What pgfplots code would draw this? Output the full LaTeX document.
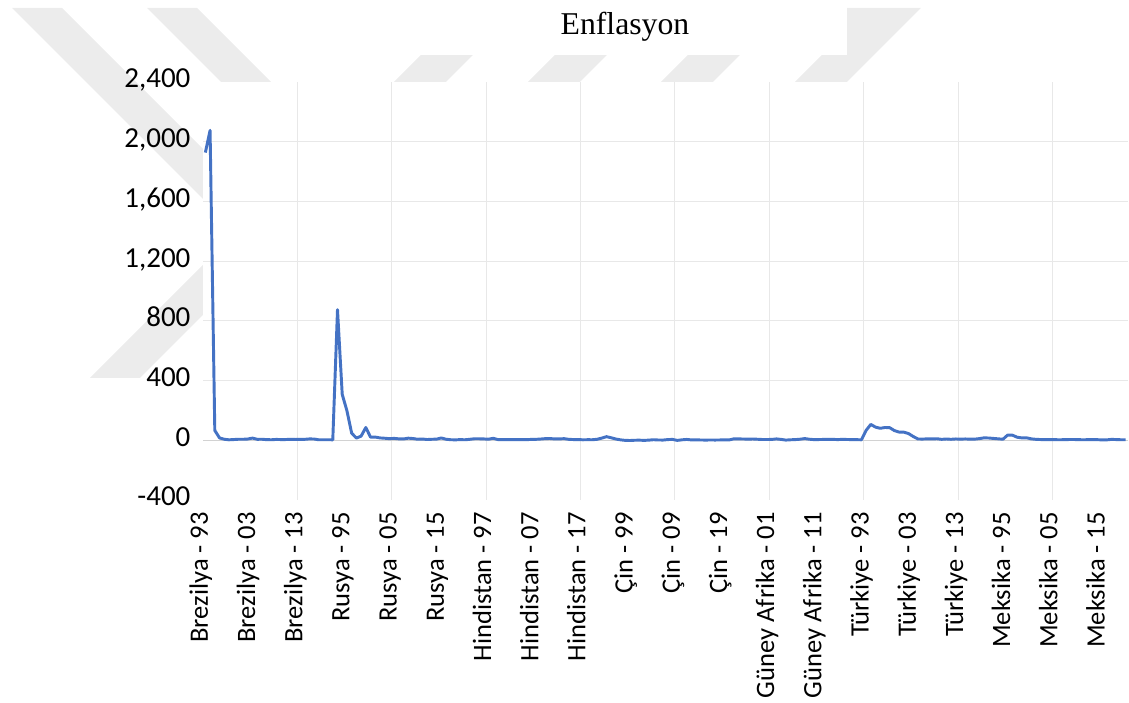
\documentclass[border=0pt]{standalone}
\usepackage{pgfplots}
\pgfplotsset{compat=1.18}
\usepackage{pgfplotstable}
\usepackage{fontspec}
\setmainfont{Liberation Serif}
\newfontfamily\carlito{Carlito}
\definecolor{linec}{HTML}{4472C4}
\definecolor{gridc}{RGB}{232,232,232}
\definecolor{zeroc}{RGB}{210,210,210}
\definecolor{wmark}{RGB}{236,236,236}

\pgfplotstableread{
x y
0 1927.4
1 2075.9
2 66.0
3 15.8
4 6.9
5 3.2
6 4.9
7 7.0
8 6.8
9 8.5
10 14.7
11 6.6
12 6.9
13 4.2
14 3.6
15 5.7
16 4.9
17 5.0
18 6.6
19 5.4
20 6.2
21 6.3
22 9.0
23 8.7
24 3.4
25 3.7
26 3.7
27 3.2
28 874.6
29 307.6
30 197.5
31 47.7
32 14.8
33 27.7
34 85.7
35 20.8
36 21.5
37 15.8
38 13.7
39 10.9
40 12.7
41 9.7
42 9.0
43 14.1
44 11.7
45 6.9
46 8.4
47 5.1
48 6.8
49 7.8
50 15.5
51 7.0
52 3.7
53 2.9
54 4.5
55 3.4
56 6.4
57 10.2
58 10.2
59 9.0
60 7.2
61 13.2
62 4.7
63 4.0
64 3.8
65 4.3
66 3.8
67 3.8
68 4.2
69 5.8
70 6.4
71 8.3
72 10.9
73 12.0
74 8.9
75 9.3
76 10.9
77 6.4
78 4.9
79 4.9
80 3.3
81 3.9
82 3.7
83 6.6
84 14.6
85 24.3
86 16.8
87 8.3
88 2.8
89 -0.8
90 -1.4
91 0.3
92 0.7
93 -0.7
94 1.1
95 3.8
96 1.8
97 1.6
98 4.8
99 5.9
100 -0.7
101 3.2
102 5.6
103 2.6
104 2.6
105 2.0
106 1.4
107 2.0
108 1.6
109 2.1
110 2.9
111 2.4
112 9.7
113 9.0
114 8.7
115 7.4
116 8.6
117 6.9
118 5.2
119 5.3
120 5.7
121 9.2
122 5.8
123 1.4
124 3.4
125 4.6
126 7.1
127 11.5
128 7.1
129 4.3
130 5.0
131 5.7
132 5.8
133 6.1
134 4.6
135 6.3
136 5.3
137 4.6
138 4.1
139 3.2
140 66.1
141 106.3
142 88.1
143 80.3
144 85.7
145 84.6
146 64.9
147 54.9
148 54.4
149 45.0
150 25.3
151 8.6
152 8.2
153 9.6
154 8.8
155 10.4
156 6.3
157 8.6
158 6.5
159 8.9
160 7.5
161 8.9
162 7.7
163 7.8
164 11.1
165 16.3
166 15.2
167 12.3
168 9.8
169 7.0
170 35.0
171 34.4
172 20.6
173 15.9
174 16.6
175 9.5
176 6.4
177 5.0
178 4.5
179 4.7
180 4.0
181 3.6
182 4.0
183 5.1
184 5.3
185 4.2
186 3.4
187 4.1
188 3.8
189 4.0
190 2.7
191 2.8
192 6.0
193 4.9
194 3.6
195 3.4
}\inflation

\begin{document}
\begin{tikzpicture}
\useasboundingbox (0,0) rectangle (846.75pt,527.25pt);
% background watermark bands (image pixel coordinates, y downwards)
\begin{scope}[shift={(0,527.25pt)}, x=0.75pt, y=-0.75pt]
  \fill[wmark] (12,8) -- (62,8) -- (286,232) -- (140,378) -- (90,378) -- (236,232) -- cycle;
  \fill[wmark] (147,8) -- (197,8) -- (421,232) -- (275,378) -- (225,378) -- (371,232) -- cycle;
  \fill[wmark] (376,100) -- (428,100) -- (520,8) -- (468,8) -- cycle;
  \fill[wmark] (510,100) -- (562,100) -- (654,8) -- (602,8) -- cycle;
  \fill[wmark] (643,100) -- (695,100) -- (787,8) -- (735,8) -- cycle;
  \fill[wmark] (777,100) -- (829,100) -- (921,8) -- (840,8) -- (840,37) -- cycle;
  \fill[white] (403,0) rectangle (847,55);
\end{scope}
\begin{axis}[
  at={(152.25pt,152.25pt)}, anchor=south west,
  scale only axis, width=693.75pt, height=313.5pt,
  xmin=-0.5, xmax=195.5, ymin=-400, ymax=2400,
  axis background/.style={fill=white},
  axis line style={draw=none},
  major tick length=0pt,
  tick style={draw=none},
  xtick={0,10,...,190},
  xticklabels={Brezilya - 93, Brezilya - 03, Brezilya - 13, Rusya - 95, Rusya - 05, Rusya - 15, Hindistan - 97, Hindistan - 07, Hindistan - 17, Çin - 99, Çin - 09, Çin - 19, Güney Afrika - 01, Güney Afrika - 11, Türkiye - 93, Türkiye - 03, Türkiye - 13, Meksika - 95, Meksika - 05, Meksika - 15},
  ytick={-400,0,400,800,1200,1600,2000,2400},
  yticklabels={-400,0,400,800,{1,200},{1,600},{2,000},{2,400}},
  extra x ticks={19.5,39.5,...,179.5},
  extra x tick style={grid=major, xticklabel={}},
  extra y ticks={400,800,1200,1600,2000},
  extra y tick style={grid=major, yticklabel={}},
  major grid style={color=gridc, line width=0.8pt},
  yticklabel style={font=\carlito\fontsize{21.75}{26}\selectfont, inner sep=0pt, anchor=base east, xshift=-9.25pt, yshift=-4.4pt},
  xticklabel style={font=\carlito\fontsize{19.9}{24}\selectfont, inner sep=0pt, xshift=1.9pt, yshift=-9pt, rotate=90, anchor=base east},
  clip=false,
]
\draw[zeroc, line width=1.1pt] (axis cs:-0.5,0) -- (axis cs:195.5,0);
\addplot[color=linec, line width=2.2pt, line join=round, mark=none] table[x=x, y=y] {\inflation};
\end{axis}
\node[font=\fontsize{23.8}{28}\selectfont, anchor=base] at (468.75pt,501pt) {Enflasyon};
\end{tikzpicture}
\end{document}
